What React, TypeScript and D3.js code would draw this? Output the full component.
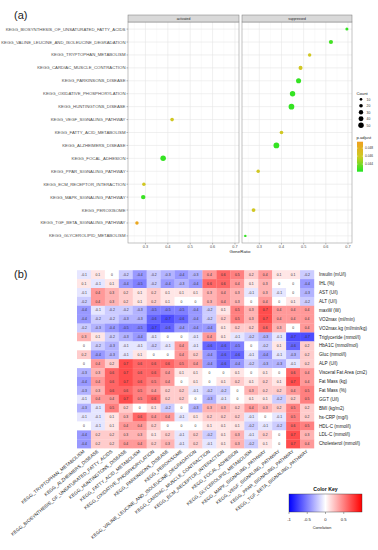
import React from 'react';
import * as d3 from 'd3';

// ---- panel (a): enrichment dot plot ----
const dotTerms = [
  'KEGG_BIOSYNTHESIS_OF_UNSATURATED_FATTY_ACIDS',
  'KEGG_VALINE_LEUCINE_AND_ISOLEUCINE_DEGRADATION',
  'KEGG_TRYPTOPHAN_METABOLISM',
  'KEGG_CARDIAC_MUSCLE_CONTRACTION',
  'KEGG_PARKINSONS_DISEASE',
  'KEGG_OXIDATIVE_PHOSPHORYLATION',
  'KEGG_HUNTINGTONS_DISEASE',
  'KEGG_VEGF_SIGNALING_PATHWAY',
  'KEGG_FATTY_ACID_METABOLISM',
  'KEGG_ALZHEIMERS_DISEASE',
  'KEGG_FOCAL_ADHESION',
  'KEGG_PPAR_SIGNALING_PATHWAY',
  'KEGG_ECM_RECEPTOR_INTERACTION',
  'KEGG_MAPK_SIGNALING_PATHWAY',
  'KEGG_PEROXISOME',
  'KEGG_TGF_BETA_SIGNALING_PATHWAY',
  'KEGG_GLYCEROLIPID_METABOLISM',
];

const activatedTerms = [
  'KEGG_VEGF_SIGNALING_PATHWAY',
  'KEGG_FOCAL_ADHESION',
  'KEGG_ECM_RECEPTOR_INTERACTION',
  'KEGG_MAPK_SIGNALING_PATHWAY',
  'KEGG_TGF_BETA_SIGNALING_PATHWAY',
];
const activatedRatio = [0.419, 0.379, 0.293, 0.29, 0.262];
const activatedCount = [20, 50, 18, 32, 18];
const activatedPadj = [0.0462, 0.0425, 0.0462, 0.0426, 0.049];

const suppressedTerms = [
  'KEGG_BIOSYNTHESIS_OF_UNSATURATED_FATTY_ACIDS',
  'KEGG_VALINE_LEUCINE_AND_ISOLEUCINE_DEGRADATION',
  'KEGG_TRYPTOPHAN_METABOLISM',
  'KEGG_CARDIAC_MUSCLE_CONTRACTION',
  'KEGG_PARKINSONS_DISEASE',
  'KEGG_OXIDATIVE_PHOSPHORYLATION',
  'KEGG_HUNTINGTONS_DISEASE',
  'KEGG_FATTY_ACID_METABOLISM',
  'KEGG_ALZHEIMERS_DISEASE',
  'KEGG_PPAR_SIGNALING_PATHWAY',
  'KEGG_PEROXISOME',
  'KEGG_GLYCEROLIPID_METABOLISM',
];
const suppressedRatio = [0.695, 0.623, 0.527, 0.486, 0.477, 0.45, 0.445, 0.4, 0.377, 0.295, 0.274, 0.237];
const suppressedCount = [13, 27, 18, 25, 42, 48, 54, 20, 55, 18, 22, 8];
const suppressedPadj = [0.0425, 0.0428, 0.0462, 0.0462, 0.0425, 0.0425, 0.0425, 0.0462, 0.0425, 0.0462, 0.0462, 0.0425];

const ratioTicks = [0.3, 0.4, 0.5, 0.6, 0.7];
const countBreaks = [10, 20, 30, 40, 50];
const padjBreaks = [0.044, 0.046, 0.048];

// ---- panel (b): correlation heatmap ----
const colLabels = [
  'KEGG_TRYPTOPHAN_METABOLISM',
  'KEGG_ALZHEIMERS_DISEASE',
  'KEGG_BIOSYNTHESIS_OF_UNSATURATED_FATTY_ACIDS',
  'KEGG_HUNTINGTONS_DISEASE',
  'KEGG_FATTY_ACID_METABOLISM',
  'KEGG_OXIDATIVE_PHOSPHORYLATION',
  'KEGG_PARKINSONS_DISEASE',
  'KEGG_PEROXISOME',
  'KEGG_VALINE_LEUCINE_AND_ISOLEUCINE_DEGRADATION',
  'KEGG_CARDIAC_MUSCLE_CONTRACTION',
  'KEGG_ECM_RECEPTOR_INTERACTION',
  'KEGG_FOCAL_ADHESION',
  'KEGG_GLYCEROLIPID_METABOLISM',
  'KEGG_MAPK_SIGNALING_PATHWAY',
  'KEGG_VEGF_SIGNALING_PATHWAY',
  'KEGG_PPAR_SIGNALING_PATHWAY',
  'KEGG_TGF_BETA_SIGNALING_PATHWAY',
];

const rowLabels = [
  'Insulin (mU/l)', 'IHL (%)', 'AST (U/l)', 'ALT (U/l)', 'maxW (W)', 'VO2max (ml/min)',
  'VO2max.kg (ml/min/kg)', 'Triglyceride (mmol/l)', 'HbA1C (mmol/mol)', 'Gluc (mmol/l)',
  'ALP (U/l)', 'Visceral Fat Area (cm2)', 'Fat Mass (kg)', 'Fat Mass (%)', 'GGT (U/l)',
  'BMI (kg/m2)', 'hs-CRP (mg/l)', 'HDL-C (mmol/l)', 'LDL-C (mmol/l)', 'Cholesterol (mmol/l)',
];

const corrValues = [
  [-0.1, 0.1, 0, -0.2, -0.4, -0.2, -0.3, -0.4, -0.3, 0.4, 0.6, 0.5, 0.2, 0.4, 0.1, 0.1, -0.2],
  [0.1, -0.1, 0.1, -0.4, -0.5, -0.2, -0.4, -0.3, -0.4, 0.6, 0.6, 0.4, 0.1, 0.3, 0, 0, -0.4],
  [-0.1, 0.4, 0.3, 0.2, 0.1, 0.2, 0.1, 0.1, 0.1, 0.3, 0.4, 0.3, -0.1, 0.3, -0.1, 0, -0.3],
  [-0.2, 0.4, 0.3, 0.2, 0.1, 0.2, 0.1, 0, 0, 0.3, 0.4, 0.3, 0, 0.4, 0, 0.1, -0.2],
  [-0.4, -0.1, -0.2, -0.2, -0.3, -0.5, -0.5, -0.5, -0.4, -0.2, 0.1, 0.5, 0.3, 0.7, 0.4, 0.4, 0.4],
  [-0.4, -0.2, -0.2, -0.3, -0.3, -0.6, -0.7, -0.6, -0.4, -0.2, 0.2, 0.5, 0.3, 0.7, 0.4, 0.4, 0.4],
  [-0.2, -0.3, -0.4, -0.5, -0.5, -0.7, -0.6, -0.4, -0.4, -0.4, 0.1, 0.2, 0.2, 0.6, 0.3, 0, 0.4],
  [0.3, 0.1, -0.2, -0.3, -0.4, -0.1, 0, 0, -0.1, 0.4, 0.1, -0.1, -0.2, -0.3, -0.1, -0.7, -0.7],
  [0, -0.2, -0.3, -0.1, -0.1, -0.2, -0.1, 0.4, -0.1, -0.6, -0.6, -0.5, 0, -0.2, 0.1, -0.6, 0.2],
  [0.2, -0.4, -0.3, -0.1, 0.1, 0, 0, 0.4, 0.2, -0.4, -0.6, -0.6, -0.1, -0.4, -0.1, -0.3, 0.2],
  [0, 0.4, 0.2, 0.7, 0.6, 0.6, 0.6, 0.5, 0.4, -0.4, -0.6, -0.4, -0.2, -0.3, -0.3, -0.1, 0.2],
  [-0.3, 0.3, 0.6, 0.7, 0.6, 0.6, 0.4, 0.1, 0.1, 0, 0, 0.1, 0, 0.1, 0, 0.6, 0.4],
  [-0.4, 0.4, 0.6, 0.7, 0.6, 0.5, 0.4, 0, 0.1, 0, 0.1, 0.2, 0.1, 0.2, 0.1, 0.7, 0.4],
  [-0.3, 0.3, 0.6, 0.6, 0.5, 0.4, 0.2, 0.2, -0.1, -0.2, -0.2, 0, 0.3, 0.2, 0.2, 0.4, 0.5],
  [-0.1, 0.4, 0.4, 0.7, 0.5, 0.6, 0.2, 0.2, 0, -0.3, -0.1, 0, 0.1, 0.1, -0.2, 0.2, 0.5],
  [-0.3, -0.1, 0.5, 0.2, 0, 0.1, -0.2, 0, -0.3, 0.3, 0.3, 0.2, 0.4, 0.3, 0.2, 0.5, 0.2],
  [-0.1, -0.1, 0.1, 0.3, 0.6, 0.4, 0.4, -0.1, 0.1, 0.2, 0.2, 0.2, -0.1, 0, -0.1, 0.5, 0.2],
  [0, -0.1, 0.1, 0.4, 0.4, 0.2, 0, 0, 0, 0.1, 0.1, 0.1, -0.2, -0.1, -0.2, 0.6, 0.5],
  [-0.4, 0.2, 0.2, 0.3, 0.3, 0.1, 0.2, -0.1, 0.2, -0.2, 0.1, 0.3, -0.1, 0.2, 0, 0.7, 0.3],
  [-0.4, 0.2, 0.2, 0.4, 0.4, 0.2, 0.3, -0.1, 0.2, -0.1, 0.1, 0.3, -0.2, 0.1, 0, 0.7, 0.4],
];

const keyTicks = [-1, -0.5, 0, 0.5];

const FONT = "'Liberation Sans', Arial, Helvetica, sans-serif";

const fmt = (v: number) => (v === 0 ? '0' : String(v));

const DotPlot: React.FC = () => {
  const panelTop = 22;
  const panelBottom = 243;
  const facets = [
    { name: 'activated', x0: 128, x1: 239, terms: activatedTerms, ratio: activatedRatio, count: activatedCount, padj: activatedPadj },
    { name: 'suppressed', x0: 242, x1: 352, terms: suppressedTerms, ratio: suppressedRatio, count: suppressedCount, padj: suppressedPadj },
  ];

  const y = d3.scalePoint<string>().domain(dotTerms).range([panelTop, panelBottom]).padding(0.55);
  const r = d3.scaleSqrt().domain([10, 50]).range([1.35, 2.75]);
  const color = d3.scaleLinear<string>()
    .domain([0.0421, 0.0458, 0.0496])
    .range(['#22e622', '#cccc22', '#f0a020'])
    .clamp(true);

  const minorTicks = d3.range(0.25, 0.71, 0.1);

  // legend colour bar
  const barTop = 141.7, barBottom = 171.7;
  const barScale = d3.scaleLinear().domain([0.0421, 0.0496]).range([barBottom, barTop]);
  const stops = d3.range(0, 1.001, 0.1).map(t => ({ t, c: color(0.0496 - t * (0.0496 - 0.0421)) }));

  return (
    <g>
      <text x={14} y={18.5} fontSize={11} fontFamily={FONT} fill="#222">(a)</text>
      {facets.map(f => {
        const x = d3.scaleLinear().domain([0.222, 0.718]).range([f.x0, f.x1]);
        return (
          <g key={f.name}>
            <rect x={f.x0} y={panelTop} width={f.x1 - f.x0} height={panelBottom - panelTop} fill="#fff" />
            {minorTicks.map(t => (
              <line key={'m' + t} x1={x(t)} x2={x(t)} y1={panelTop} y2={panelBottom} stroke="#f3f3f3" strokeWidth={0.4} />
            ))}
            {ratioTicks.map(t => (
              <line key={'g' + t} x1={x(t)} x2={x(t)} y1={panelTop} y2={panelBottom} stroke="#e6e6e6" strokeWidth={0.6} />
            ))}
            {dotTerms.map(t => (
              <line key={'h' + t} x1={f.x0} x2={f.x1} y1={y(t)} y2={y(t)} stroke="#e6e6e6" strokeWidth={0.6} />
            ))}
            {f.terms.map((t, i) => (
              <circle key={t} cx={x(f.ratio[i])} cy={y(t)} r={r(f.count[i])} fill={color(f.padj[i])} />
            ))}
            <rect x={f.x0} y={panelTop} width={f.x1 - f.x0} height={panelBottom - panelTop} fill="none" stroke="#999" strokeWidth={0.6} />
            <rect x={f.x0} y={15} width={f.x1 - f.x0} height={panelTop - 15} fill="#d9d9d9" stroke="#777" strokeWidth={0.5} />
            <text x={(f.x0 + f.x1) / 2} y={19.8} fontSize={3.4} textAnchor="middle" fontFamily={FONT} fill="#1a1a1a">{f.name}</text>
            {ratioTicks.map(t => (
              <g key={'t' + t}>
                <line x1={x(t)} x2={x(t)} y1={panelBottom} y2={panelBottom + 1.5} stroke="#555" strokeWidth={0.4} />
                <text x={x(t)} y={248.3} fontSize={3.8} textAnchor="middle" fontFamily={FONT} fill="#4d4d4d">{t}</text>
              </g>
            ))}
          </g>
        );
      })}
      {dotTerms.map(t => (
        <g key={'yl' + t}>
          <line x1={126.5} x2={128} y1={y(t)} y2={y(t)} stroke="#555" strokeWidth={0.4} />
          <text x={125.5} y={y(t)! + 1.5} fontSize={4.3} textAnchor="end" fontFamily={FONT} fill="#4d4d4d">{t}</text>
        </g>
      ))}
      <text x={240} y={252.5} fontSize={4.4} textAnchor="middle" fontFamily={FONT} fill="#222">GeneRatio</text>

      {/* Count legend */}
      <text x={356.5} y={95} fontSize={4.2} fontFamily={FONT} fill="#222">Count</text>
      {countBreaks.map((c, i) => (
        <g key={'c' + c}>
          <circle cx={361} cy={99.3 + i * 6.5} r={r(c)} fill="#000" />
          <text x={366.5} y={99.3 + i * 6.5 + 1.3} fontSize={3.4} fontFamily={FONT} fill="#333">{c}</text>
        </g>
      ))}

      {/* p.adjust legend */}
      <defs>
        <linearGradient id="padjGrad" x1="0" y1="0" x2="0" y2="1">
          {stops.map(s => <stop key={s.t} offset={s.t} stopColor={s.c} />)}
        </linearGradient>
      </defs>
      <text x={356.5} y={139} fontSize={4.2} fontFamily={FONT} fill="#222">p.adjust</text>
      <rect x={357} y={barTop} width={6} height={barBottom - barTop} fill="url(#padjGrad)" />
      {padjBreaks.map(b => (
        <g key={'p' + b}>
          <line x1={357} x2={358.2} y1={barScale(b)} y2={barScale(b)} stroke="#fff" strokeWidth={0.4} />
          <line x1={361.8} x2={363} y1={barScale(b)} y2={barScale(b)} stroke="#fff" strokeWidth={0.4} />
          <text x={365} y={barScale(b) + 1.2} fontSize={3.2} fontFamily={FONT} fill="#333">{b.toFixed(3)}</text>
        </g>
      ))}
    </g>
  );
};

const Heatmap: React.FC = () => {
  const x = d3.scaleBand<string>().domain(colLabels).range([77, 314]);
  const y = d3.scaleBand<string>().domain(rowLabels).range([270.2, 448.2]);
  const color = d3.scaleLinear<string>().domain([-1, 0, 1]).range(['#0000ff', '#ffffff', '#ff0000']);

  const keyX = d3.scaleLinear().domain([-1, 1]).range([289, 362]);
  const keyTop = 494, keyBottom = 512;
  const keyStops = d3.range(-1, 1.001, 0.1);

  return (
    <g>
      <text x={14} y={277.5} fontSize={11} fontFamily={FONT} fill="#222">(b)</text>
      {corrValues.map((row, i) =>
        row.map((v, j) => (
          <g key={i + '-' + j}>
            <rect x={x(colLabels[j])} y={y(rowLabels[i])} width={x.bandwidth() + 0.2} height={y.bandwidth() + 0.2} fill={color(v)} />
            <text
              x={x(colLabels[j])! + x.bandwidth() / 2}
              y={y(rowLabels[i])! + y.bandwidth() / 2 + 1.2}
              fontSize={3.4}
              textAnchor="middle"
              fontFamily={FONT}
              fill="#333"
            >
              {fmt(v)}
            </text>
          </g>
        ))
      )}
      {rowLabels.map(l => (
        <text key={l} x={319} y={y(l)! + y.bandwidth() / 2 + 1.6} fontSize={4.6} fontFamily={FONT} fill="#222">{l}</text>
      ))}
      {colLabels.map(l => {
        const cx = x(l)! + x.bandwidth() / 2 + 1;
        return (
          <text
            key={l}
            transform={`translate(${cx},${452}) rotate(-40)`}
            fontSize={4.7}
            textAnchor="end"
            fontFamily={FONT}
            fill="#222"
          >
            {l}
          </text>
        );
      })}

      {/* colour key */}
      <defs>
        <linearGradient id="keyGrad" x1="0" y1="0" x2="1" y2="0">
          {keyStops.map(v => <stop key={v} offset={(v + 1) / 2} stopColor={color(v)} />)}
        </linearGradient>
      </defs>
      <text x={325.5} y={490.5} fontSize={5.2} fontWeight="bold" textAnchor="middle" fontFamily={FONT} fill="#111">Color Key</text>
      <rect x={keyX(-1)} y={keyTop} width={keyX(1) - keyX(-1)} height={keyBottom - keyTop} fill="url(#keyGrad)" stroke="#333" strokeWidth={0.4} />
      {keyTicks.map(t => (
        <g key={'k' + t}>
          <line x1={keyX(t)} x2={keyX(t)} y1={keyBottom} y2={keyBottom + 2} stroke="#333" strokeWidth={0.4} />
          <text x={keyX(t)} y={521} fontSize={4.2} textAnchor="middle" fontFamily={FONT} fill="#222">{t}</text>
        </g>
      ))}
      <text x={322} y={529} fontSize={3.8} textAnchor="middle" fontFamily={FONT} fill="#222">Correlation</text>
    </g>
  );
};

const App: React.FC = () => (
  <svg
    width={378}
    height={550}
    viewBox="0 0 378 550"
    style={{ position: 'absolute', left: 0, top: 0, background: '#fff' }}
  >
    <rect width={378} height={550} fill="#fff" />
    <DotPlot />
    <Heatmap />
  </svg>
);

export default App;
